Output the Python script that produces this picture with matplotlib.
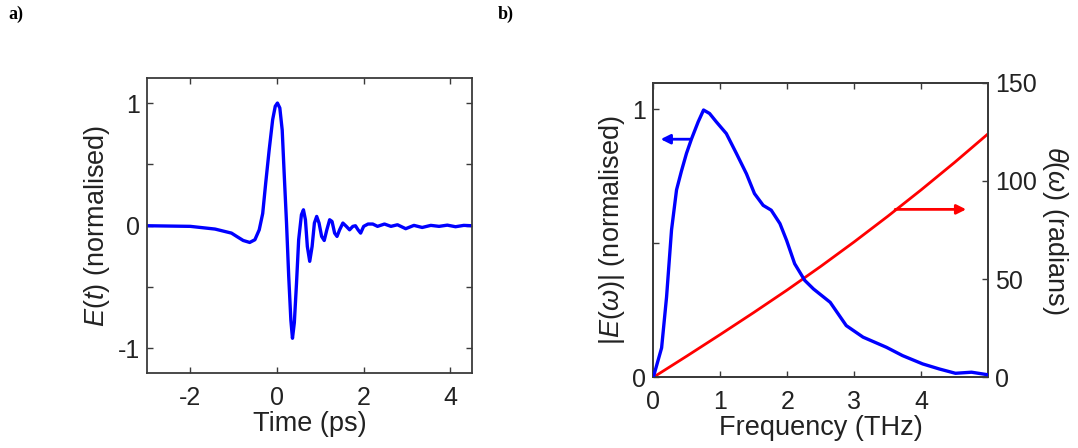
import matplotlib
matplotlib.use("Agg")
import matplotlib.pyplot as plt

# ---------------- data ----------------
time_ps = [-2.98, -2.0, -1.43, -1.05, -0.93, -0.78, -0.63, -0.51, -0.41, -0.33,
           -0.26, -0.18, -0.10, -0.04, 0.01, 0.065, 0.12, 0.165, 0.22, 0.27,
           0.32, 0.357, 0.40, 0.45, 0.50, 0.564, 0.61, 0.656, 0.70, 0.755,
           0.81, 0.863, 0.916, 0.97, 1.03, 1.09, 1.15, 1.215, 1.27, 1.33,
           1.385, 1.445, 1.52, 1.60, 1.675, 1.75, 1.81, 1.87, 1.93, 2.00,
           2.10, 2.21, 2.32, 2.48, 2.63, 2.78, 2.97, 3.16, 3.35, 3.55,
           3.74, 3.93, 4.12, 4.31, 4.50]
field_t = [0.0, -0.005, -0.027, -0.06, -0.087, -0.12, -0.136, -0.114, -0.033, 0.10,
           0.35, 0.62, 0.865, 0.974, 1.0, 0.96, 0.78, 0.43, 0.02, -0.41,
           -0.77, -0.917, -0.79, -0.47, -0.114, 0.09, 0.13, 0.049, -0.169, -0.29,
           -0.169, 0.022, 0.076, 0.022, -0.087, -0.12, -0.033, 0.049, 0.035, -0.06,
           -0.087, -0.033, 0.022, -0.005, -0.033, -0.005, 0.0, -0.033, -0.06, -0.005,
           0.014, 0.014, -0.005, 0.014, -0.005, 0.008, -0.024, 0.003, -0.014, 0.003,
           -0.005, 0.005, -0.008, 0.003, 0.0]

freq_thz = [0.0, 0.124, 0.198, 0.272, 0.347, 0.42, 0.495, 0.57, 0.67, 0.75,
            0.84, 0.94, 1.09, 1.24, 1.39, 1.51, 1.64, 1.76, 1.89, 1.99,
            2.11, 2.26, 2.39, 2.64, 2.88, 3.13, 3.48, 3.72, 4.02, 4.27,
            4.51, 4.75, 4.98]
spectrum = [0.0, 0.11, 0.30, 0.55, 0.70, 0.77, 0.836, 0.89, 0.954, 0.998,
            0.985, 0.954, 0.91, 0.836, 0.76, 0.686, 0.642, 0.624, 0.574, 0.511,
            0.424, 0.362, 0.33, 0.28, 0.193, 0.15, 0.112, 0.081, 0.05, 0.031,
            0.015, 0.019, 0.01]

phase_freq = [0.0, 0.5, 1.0, 1.5, 2.0, 2.5, 3.0, 3.5, 4.0, 4.5, 4.98]
phase_rad = [0.0, 10.8, 21.8, 33.0, 44.5, 56.5, 69.0, 82.0, 95.5, 109.5, 123.5]

# tick labels
t_ticks = [-2, 0, 2, 4]
e_ticks = [-1, -0.5, 0, 0.5, 1]
e_ticklabels = ["-1", "", "0", "", "1"]
f_ticks = [0, 1, 2, 3, 4]
s_ticks = [0, 0.5, 1]
s_ticklabels = ["0", "", "1"]
p_ticks = [0, 50, 100, 150]

# ---------------- style ----------------
plt.rcParams["font.family"] = ["Liberation Sans", "DejaVu Sans"]
plt.rcParams["mathtext.fontset"] = "custom"
plt.rcParams["mathtext.rm"] = "Liberation Sans"
plt.rcParams["mathtext.it"] = "Liberation Sans:italic"
plt.rcParams["axes.unicode_minus"] = False

SPINE = "#3a3a3a"
TICK_FS = 18
LABEL_FS = 19.5
BLUE = "#0000ff"
RED = "#ff0000"

fig = plt.figure(figsize=(10.78, 4.48), dpi=100)


def style_axes(ax):
    for s in ax.spines.values():
        s.set_color(SPINE)
        s.set_linewidth(1.3)
    ax.tick_params(direction="in", length=4, width=1.0, colors=SPINE,
                   labelcolor="#222222", labelsize=TICK_FS)


# ---------------- panel a ----------------
ax1 = fig.add_axes([147 / 1078, (448 - 373) / 448, 325 / 1078, 294.5 / 448])
ax1.plot(time_ps, field_t, color=BLUE, lw=2.4, solid_joinstyle="round",
         solid_capstyle="round")
ax1.set_xlim(-3, 4.5)
ax1.set_ylim(-1.2, 1.2)
ax1.set_xticks(t_ticks)
ax1.set_yticks(e_ticks)
ax1.set_yticklabels(e_ticklabels)
style_axes(ax1)
ax1.tick_params(top=True, right=True)
ax1.tick_params(axis="x", pad=9)
ax1.tick_params(axis="y", pad=5)
ax1.set_xlabel("Time (ps)", fontsize=LABEL_FS, color="#222222", labelpad=1)
ax1.set_ylabel(r"$E(t)$ (normalised)", fontsize=LABEL_FS, color="#222222", labelpad=4)

# ---------------- panel b ----------------
ax2 = fig.add_axes([653.3 / 1078, (448 - 377.3) / 448, 335 / 1078, 294.6 / 448])
ax2.plot(freq_thz, spectrum, color=BLUE, lw=2.4, solid_joinstyle="round", zorder=3)
ax2.set_xlim(0, 5)
ax2.set_ylim(0, 1.1)
ax2.set_xticks(f_ticks)
ax2.set_yticks(s_ticks)
ax2.set_yticklabels(s_ticklabels)
style_axes(ax2)
ax2.tick_params(top=True, right=False)
ax2.tick_params(axis="x", pad=9)
ax2.tick_params(axis="y", pad=5)
ax2.set_xlabel("Frequency (THz)", fontsize=LABEL_FS, color="#222222", labelpad=1)
ax2.set_ylabel(r"$|E(\omega)|$ (normalised)", fontsize=LABEL_FS, color="#222222", labelpad=4)

ax3 = ax2.twinx()
ax3.plot(phase_freq, phase_rad, color=RED, lw=2.0, zorder=2)
ax3.set_ylim(0, 150)
ax3.set_yticks(p_ticks)
style_axes(ax3)
ax3.tick_params(axis="y", pad=5)
ax3.set_ylabel(r"$\theta(\omega)$ (radians)", fontsize=LABEL_FS, color="#222222",
               rotation=-90, va="bottom", labelpad=2)
ax2.set_zorder(ax3.get_zorder() + 1)
ax2.patch.set_visible(False)

# arrows
ax2.annotate("", xy=(0.11, 0.889), xytext=(0.55, 0.889),
             arrowprops=dict(arrowstyle="-|>", color=BLUE, lw=2.0,
                             mutation_scale=14, shrinkA=0, shrinkB=0))
ax3.annotate("", xy=(4.67, 85.5), xytext=(3.61, 85.5),
             arrowprops=dict(arrowstyle="-|>", color=RED, lw=2.0,
                             mutation_scale=14, shrinkA=0, shrinkB=0))

# panel letters
fig.text(8 / 1078, 1 - 14 / 448, "a)", fontfamily="Liberation Serif",
         fontweight="bold", fontsize=13, va="center", ha="left")
fig.text(498 / 1078, 1 - 14 / 448, "b)", fontfamily="Liberation Serif",
         fontweight="bold", fontsize=13, va="center", ha="left")

fig.savefig("out.png", dpi=100)
